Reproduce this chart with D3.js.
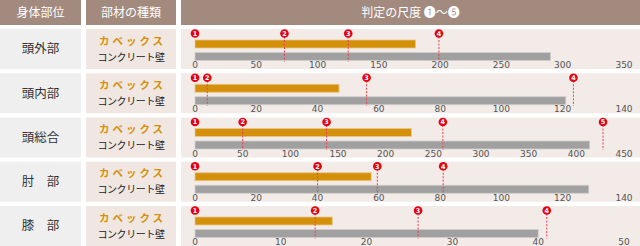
<!DOCTYPE html>
<html lang="ja">
  <head>
    <meta charset="UTF-8" />
    <title>判定の尺度</title>
    <script src="https://d3js.org/d3.v7.min.js"></script>
    <style>
      body {
        margin: 0;
        background: #fff;
        font-family: "Noto Sans CJK JP", "Noto Sans", sans-serif;
      }
      svg {
        display: block;
      }
    </style>
  </head>
  <body>
    <svg id="chart" width="640" height="246"></svg>
    <script>
      const headers = ["身体部位", "部材の種類", "判定の尺度 ❶〜❺"];
      const parts = ["頭外部", "頭内部", "頭総合", "肘　部", "膝　部"];
      const materials = ["カベックス", "コンクリート壁"];
      const axisMax = [350, 140, 450, 140, 50];
      const tickStep = [50, 20, 50, 20, 10];
      const capexValues = [180, 47, 227, 57.5, 16];
      const concreteValues = [290, 121, 414, 128.5, 40];
      const judgeLevels = [
        [0, 73, 125, 199],
        [0, 4, 56, 123.5],
        [0, 50, 138, 260, 428],
        [0, 40, 59.5, 81],
        [0, 14, 26, 41],
      ];

      const svg = d3.select("#chart");
      const cols = [
        { x: 0, w: 81, bg: "#efefef" },
        { x: 86, w: 90, bg: "#f0e7e2" },
        { x: 181, w: 459, bg: "#f2ebe7" },
      ];
      const headerH = 25;
      const rowTop = (i) => 29 + i * 44.25;
      const rowH = 40;
      const red = "#e60012";

      // ヘッダー
      cols.forEach((c, j) => {
        svg
          .append("rect")
          .attr("x", c.x)
          .attr("y", 0)
          .attr("width", c.w)
          .attr("height", headerH)
          .attr("fill", "#a38a7e");
        svg
          .append("text")
          .attr("x", c.x + c.w / 2)
          .attr("y", 13)
          .attr("dy", "0.35em")
          .attr("text-anchor", "middle")
          .attr("fill", "#fff")
          .attr("font-size", 12)
          .text(headers[j]);
      });

      parts.forEach((part, i) => {
        const top = rowTop(i);
        cols.forEach((c) => {
          svg
            .append("rect")
            .attr("x", c.x)
            .attr("y", top)
            .attr("width", c.w)
            .attr("height", rowH)
            .attr("fill", c.bg);
        });

        svg
          .append("text")
          .attr("x", 40.5)
          .attr("y", top + rowH / 2)
          .attr("dy", "0.35em")
          .attr("text-anchor", "middle")
          .attr("fill", "#333")
          .attr("font-size", 12.5)
          .text(part);

        svg
          .append("text")
          .attr("x", 131)
          .attr("y", top + 12)
          .attr("dy", "0.35em")
          .attr("text-anchor", "middle")
          .attr("fill", "#d4900a")
          .attr("font-size", 10.5)
          .attr("font-weight", "bold")
          .attr("letter-spacing", "3px")
          .attr("dx", 1.5)
          .text(materials[0]);

        svg
          .append("text")
          .attr("x", 131)
          .attr("y", top + 28)
          .attr("dy", "0.35em")
          .attr("text-anchor", "middle")
          .attr("fill", "#222")
          .attr("font-size", 10)
          .attr("letter-spacing", "-0.4px")
          .text(materials[1]);

        const x = d3.scaleLinear().domain([0, axisMax[i]]).range([195, 624]);
        const g = svg.append("g");

        g.append("rect")
          .attr("x", x(0))
          .attr("y", top + 11)
          .attr("width", x(capexValues[i]) - x(0))
          .attr("height", 8)
          .attr("fill", "#d4900a")
          .attr("stroke", "#e9c98a")
          .attr("stroke-width", 0.8);

        g.append("rect")
          .attr("x", x(0))
          .attr("y", top + 23.5)
          .attr("width", x(concreteValues[i]) - x(0))
          .attr("height", 8)
          .attr("fill", "#a0a0a0")
          .attr("stroke", "#d0cccb")
          .attr("stroke-width", 0.8);

        const ticks = d3.range(0, axisMax[i] + 0.001, tickStep[i]);
        g.selectAll(".tick")
          .data(ticks)
          .join("text")
          .attr("x", (d) => x(d))
          .attr("y", top + 39)
          .attr("text-anchor", "middle")
          .attr("fill", "#555")
          .attr("font-family", "DejaVu Sans, sans-serif")
          .attr("font-size", 9)
          .text((d) => d);

        const marks = g
          .selectAll(".mark")
          .data(judgeLevels[i])
          .join("g")
          .attr("transform", (d) => `translate(${x(d)},${top + 4.5})`);

        marks
          .filter((d, k) => k > 0)
          .append("line")
          .attr("y1", 3)
          .attr("y2", 28)
          .attr("stroke", "#e8404c")
          .attr("stroke-width", 1)
          .attr("stroke-dasharray", "2,1.5");

        marks.append("circle").attr("r", 4.3).attr("fill", red);

        marks
          .append("text")
          .attr("dy", "0.36em")
          .attr("text-anchor", "middle")
          .attr("fill", "#fff")
          .attr("font-family", "DejaVu Sans, sans-serif")
          .attr("font-weight", "bold")
          .attr("font-size", 6.5)
          .text((d, k) => k + 1);
      });
    </script>
  </body>
</html>
